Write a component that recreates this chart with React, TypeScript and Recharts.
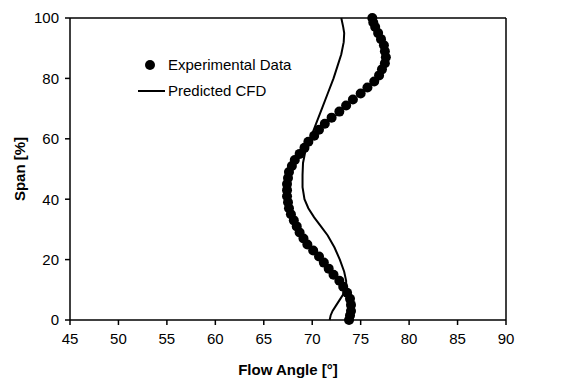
import React from 'react';
import { ScatterChart, Scatter, XAxis, YAxis, ReferenceLine } from 'recharts';

// experimental traverse: span [%] and flow angle [deg]
const expSpan = [100, 98.5, 97, 95, 93, 91, 89, 87, 85, 83, 81, 79, 77, 75, 73, 71, 69, 67, 65, 63, 61, 59, 57, 55, 53, 51, 49, 47, 45, 43, 41, 39, 37, 35, 33, 31, 29, 27, 25, 23, 21, 19, 17, 15, 13, 11, 9, 7, 5, 3, 1.5, 0];
const expAngle = [76.2, 76.3, 76.5, 76.8, 77.1, 77.4, 77.5, 77.6, 77.5, 77.2, 76.9, 76.4, 75.7, 75.0, 74.2, 73.5, 72.8, 72.0, 71.3, 70.7, 70.2, 69.6, 69.2, 68.7, 68.2, 67.9, 67.6, 67.5, 67.4, 67.4, 67.4, 67.5, 67.6, 67.8, 68.1, 68.4, 68.7, 69.1, 69.5, 70.1, 70.7, 71.2, 71.7, 72.2, 72.8, 73.2, 73.6, 73.9, 74.0, 74.0, 73.9, 73.8];

// CFD prediction
const cfdSpan = [100, 97, 95, 92, 88, 84, 80, 75, 70, 65, 60, 56, 52, 48, 44, 40, 37, 34, 31, 28, 24, 20, 16, 13, 11, 9, 7, 5, 3, 1.5, 0];
const cfdAngle = [73.0, 73.2, 73.3, 73.25, 73.0, 72.6, 72.2, 71.6, 71.0, 70.4, 69.8, 69.3, 69.05, 69.0, 69.0, 69.2, 69.6, 70.2, 70.9, 71.6, 72.3, 72.85, 73.3, 73.5, 73.5, 73.3, 72.9, 72.5, 72.1, 71.9, 71.8];

const xTicks = [45, 50, 55, 60, 65, 70, 75, 80, 85, 90];
const yTicks = [0, 20, 40, 60, 80, 100];

const expData = expSpan.map((s, i) => ({ angle: expAngle[i], span: s }));
const cfdData = cfdSpan.map((s, i) => ({ angle: cfdAngle[i], span: s }));

const font = '"Liberation Sans", Arial, sans-serif';

const Dot = (props: any) => <circle cx={props.cx} cy={props.cy} r={5} fill="#000" />;

export default function App() {
  return (
    <div style={{ position: 'relative', width: 566, height: 373, fontFamily: font }}>
      <ScatterChart width={566} height={373} margin={{ top: 10, right: 68, bottom: 0, left: 0 }}>
        <XAxis
          type="number"
          dataKey="angle"
          domain={[45, 90]}
          ticks={xTicks}
          allowDataOverflow
          height={61}
          stroke="#000"
          strokeWidth={1.5}
          tickSize={5}
          tickMargin={8}
          tick={{ fill: '#000', fontSize: 15, fontFamily: font }}
          label={{ value: 'Flow Angle [°]', position: 'insideBottom', offset: 6, fill: '#000', fontSize: 15, fontWeight: 'bold', fontFamily: font }}
        />
        <YAxis
          type="number"
          dataKey="span"
          domain={[0, 100]}
          ticks={yTicks}
          width={62}
          stroke="#000"
          strokeWidth={1.5}
          tickSize={5}
          tickMargin={6}
          tick={{ fill: '#000', fontSize: 15, fontFamily: font }}
          label={{ value: 'Span [%]', angle: -90, position: 'insideLeft', offset: 12, style: { textAnchor: 'middle' }, fill: '#000', fontSize: 15, fontWeight: 'bold', fontFamily: font }}
        />
        <ReferenceLine y={100} stroke="#000" strokeWidth={1.5} />
        <ReferenceLine x={90} stroke="#000" strokeWidth={1.5} />
        <Scatter
          data={cfdData}
          line={{ stroke: '#000', strokeWidth: 2 }}
          lineType="joint"
          shape={() => null}
          isAnimationActive={false}
        />
        <Scatter data={expData} shape={Dot} isAnimationActive={false} />
      </ScatterChart>
      {/* legend */}
      <div style={{ position: 'absolute', left: 128, top: 44, fontSize: 15, color: '#000', lineHeight: '26px' }}>
        <div style={{ display: 'flex', alignItems: 'center' }}>
          <svg width={32} height={14}>
            <circle cx={14} cy={7} r={5} fill="#000" />
          </svg>
          <span>Experimental Data</span>
        </div>
        <div style={{ display: 'flex', alignItems: 'center' }}>
          <svg width={32} height={14}>
            <line x1={2} y1={7} x2={29} y2={7} stroke="#000" strokeWidth={2} />
          </svg>
          <span>Predicted CFD</span>
        </div>
      </div>
    </div>
  );
}
